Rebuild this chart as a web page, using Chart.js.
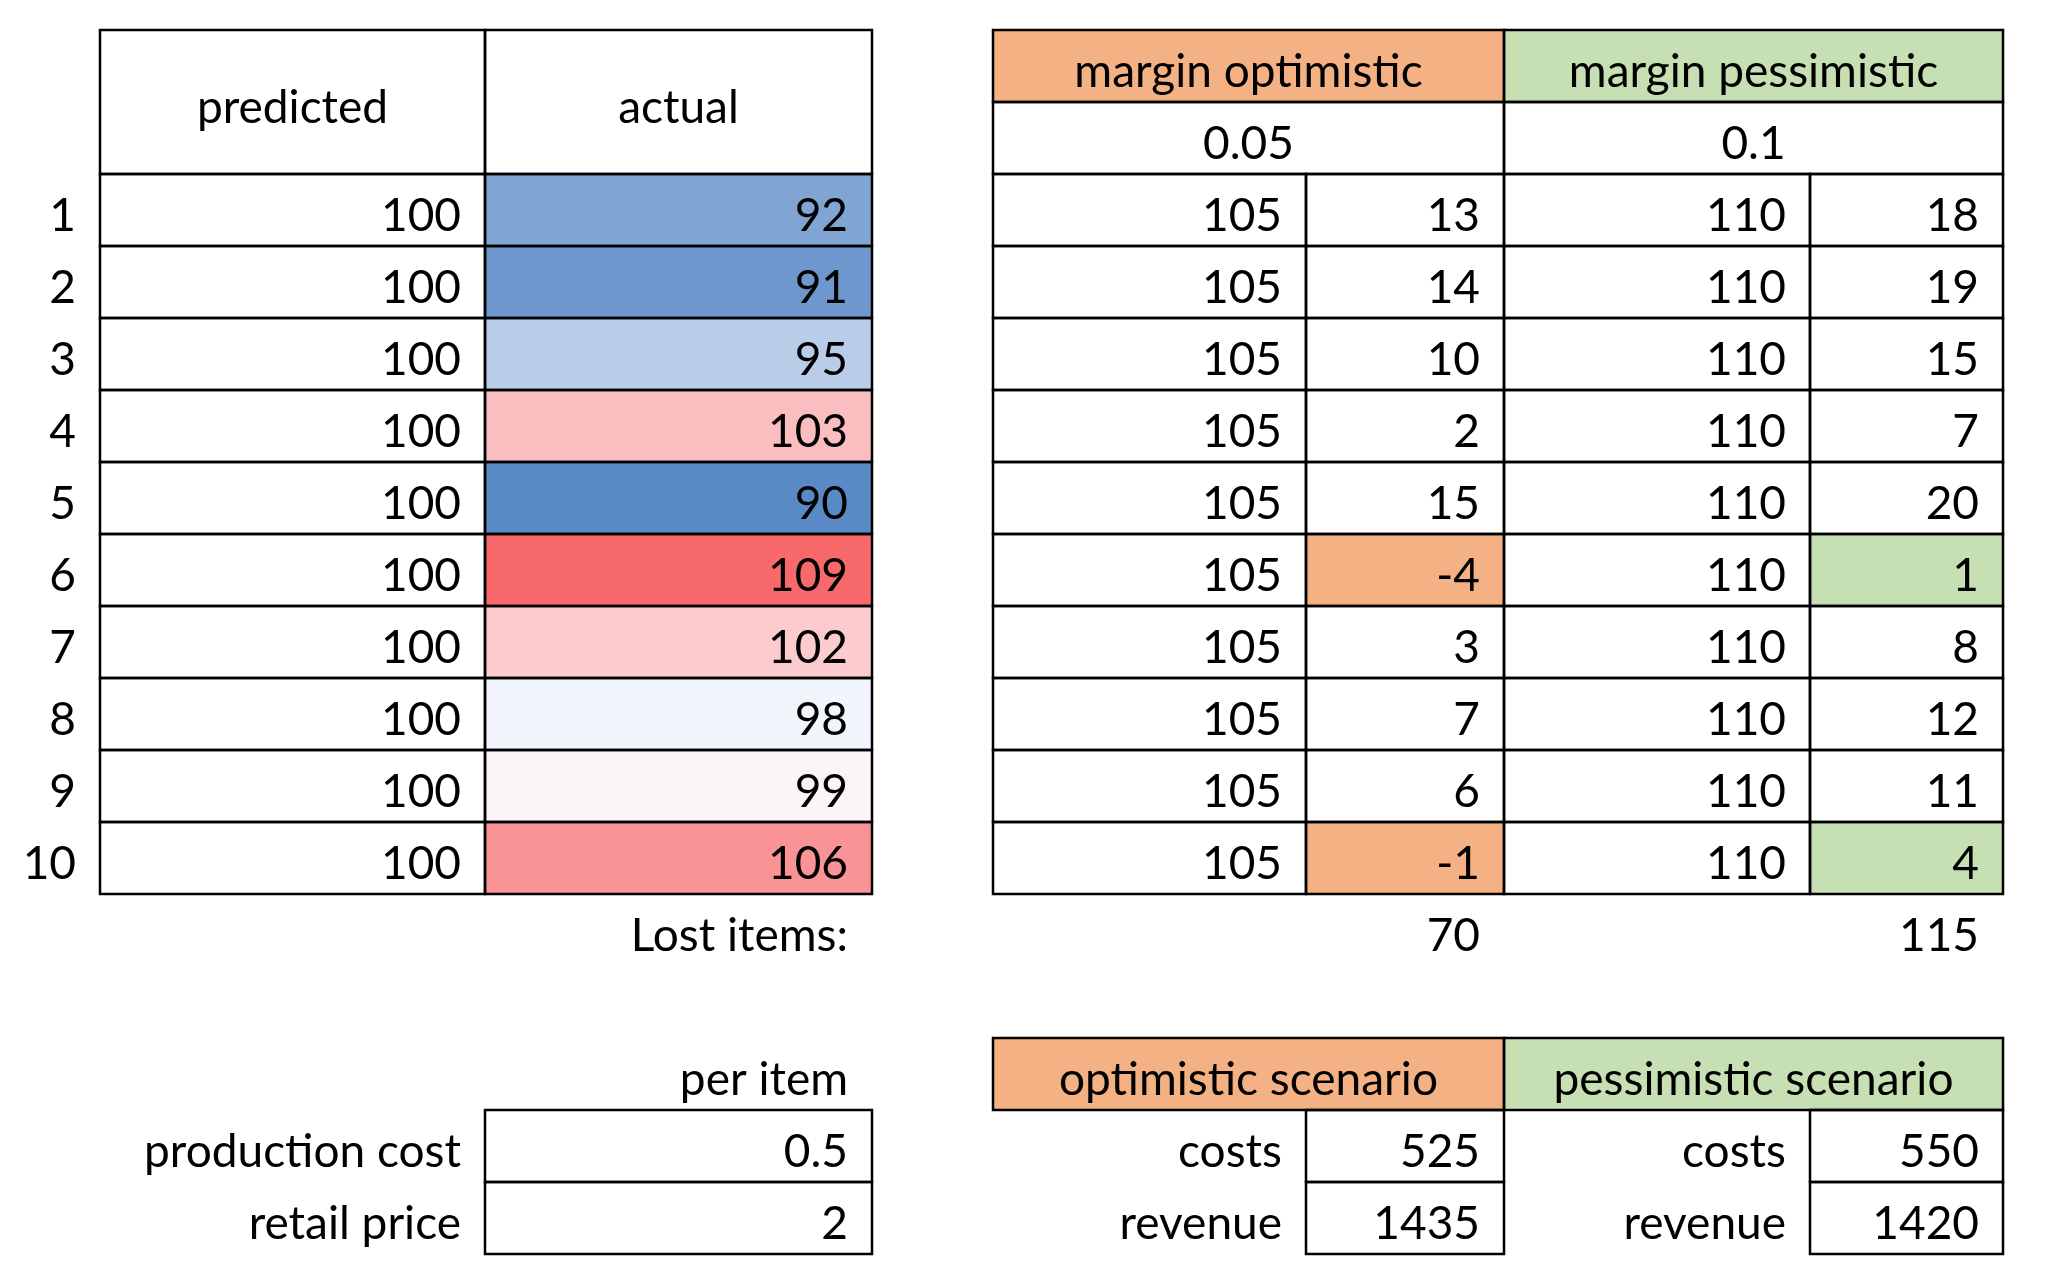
<!DOCTYPE html>
<html>
<head>
<meta charset="utf-8">
<title>Lost items – margin scenarios</title>
<script src="https://cdn.jsdelivr.net/npm/chart.js@4.4.1/dist/chart.umd.min.js"></script>
<style>
  html, body { margin: 0; padding: 0; background: #fff; }
  #wrap { width: 2048px; height: 1275px; }
</style>
</head>
<body>
<div id="wrap"><canvas id="sheet"></canvas></div>
<script>
// values
const rowNumbers = ['1', '2', '3', '4', '5', '6', '7', '8', '9', '10'];
const predicted = [100, 100, 100, 100, 100, 100, 100, 100, 100, 100];
const actual = [92, 91, 95, 103, 90, 109, 102, 98, 99, 106];
const marginHeaders = ['margin optimistic', 'margin pessimistic'];
const marginRates = [0.05, 0.1];
const optimisticUpper = [105, 105, 105, 105, 105, 105, 105, 105, 105, 105];
const optimisticMargin = [13, 14, 10, 2, 15, -4, 3, 7, 6, -1];
const pessimisticUpper = [110, 110, 110, 110, 110, 110, 110, 110, 110, 110];
const pessimisticMargin = [18, 19, 15, 7, 20, 1, 8, 12, 11, 4];
const lostItems = [70, 115];
const costLabels = ['production cost', 'retail price'];
const perItem = [0.5, 2];
const scenarioNames = ['optimistic scenario', 'pessimistic scenario'];
const scenarioRowLabels = ['costs', 'revenue'];
const optimisticTotals = [525, 1435];
const pessimisticTotals = [550, 1420];

// sheet layout: column edges A..H (px), row grid
const COL = [0, 100, 485, 872, 993, 1306, 1504, 1810, 2003];
const ROW_TOP = 30;
const ROW_H = 72;
const PAD = 24;
const FONT = '46px Lato, "Open Sans", sans-serif';
const ORANGE = '#F4B183';
const GREEN = '#C6E0B4';

// excel style 3-colour scale (blue - white - red) for the "actual" column
function heatColor(v) {
  const sorted = [...actual].sort((a, b) => a - b);
  const lo = sorted[0], hi = sorted[sorted.length - 1];
  const n = sorted.length;
  const mid = n % 2 ? sorted[(n - 1) / 2] : (sorted[n / 2 - 1] + sorted[n / 2]) / 2;
  const blue = [90, 138, 198], white = [252, 252, 255], red = [248, 105, 107];
  let from, to, t;
  if (v <= mid) { from = blue; to = white; t = (v - lo) / (mid - lo); }
  else { from = white; to = red; t = (v - mid) / (hi - mid); }
  const c = from.map((f, i) => Math.round(f + (to[i] - f) * t));
  return `rgb(${c[0]}, ${c[1]}, ${c[2]})`;
}

// filled cells -> floating bars
const fills = [];
const fillColors = [];
function addFill(c0, c1, r, color) {
  fills.push({ y: r + 0.5, x: [COL[c0], COL[c1 + 1]] });
  fillColors.push(color);
}
addFill(4, 5, 0, ORANGE);
addFill(6, 7, 0, GREEN);
actual.forEach((v, i) => addFill(2, 2, i + 2, heatColor(v)));
optimisticMargin.forEach((v, i) => {
  if (v < 0) {
    addFill(5, 5, i + 2, ORANGE);
    addFill(7, 7, i + 2, GREEN);
  }
});
addFill(4, 5, 14, ORANGE);
addFill(6, 7, 14, GREEN);

// bordered cells [c0, c1, r0, r1]
const borders = [[1, 1, 0, 1], [2, 2, 0, 1], [4, 5, 0, 0], [6, 7, 0, 0], [4, 5, 1, 1], [6, 7, 1, 1]];
for (let r = 2; r < 12; r++) {
  [1, 2, 4, 5, 6, 7].forEach(c => borders.push([c, c, r, r]));
}
borders.push([2, 2, 15, 15], [2, 2, 16, 16]);
borders.push([4, 5, 14, 14], [6, 7, 14, 14]);
[5, 7].forEach(c => { borders.push([c, c, 15, 15], [c, c, 16, 16]); });

// text cells
const texts = [];
function addText(c0, c1, r0, r1, text, align) {
  texts.push({ c0, c1, r0, r1, text: String(text), align: align || 'right' });
}
addText(1, 1, 0, 1, 'predicted', 'center');
addText(2, 2, 0, 1, 'actual', 'center');
addText(4, 5, 0, 0, marginHeaders[0], 'center');
addText(6, 7, 0, 0, marginHeaders[1], 'center');
addText(4, 5, 1, 1, marginRates[0], 'center');
addText(6, 7, 1, 1, marginRates[1], 'center');
rowNumbers.forEach((lbl, i) => {
  const r = i + 2;
  addText(0, 0, r, r, lbl);
  addText(1, 1, r, r, predicted[i]);
  addText(2, 2, r, r, actual[i]);
  addText(4, 4, r, r, optimisticUpper[i]);
  addText(5, 5, r, r, optimisticMargin[i]);
  addText(6, 6, r, r, pessimisticUpper[i]);
  addText(7, 7, r, r, pessimisticMargin[i]);
});
addText(2, 2, 12, 12, 'Lost items:');
addText(5, 5, 12, 12, lostItems[0]);
addText(7, 7, 12, 12, lostItems[1]);
addText(2, 2, 14, 14, 'per item');
addText(4, 5, 14, 14, scenarioNames[0], 'center');
addText(6, 7, 14, 14, scenarioNames[1], 'center');
costLabels.forEach((lbl, i) => {
  const r = 15 + i;
  addText(1, 1, r, r, lbl);
  addText(2, 2, r, r, perItem[i]);
  addText(4, 4, r, r, scenarioRowLabels[i]);
  addText(5, 5, r, r, optimisticTotals[i]);
  addText(6, 6, r, r, scenarioRowLabels[i]);
  addText(7, 7, r, r, pessimisticTotals[i]);
});

// draws grid lines and cell text on the chart's own scales
const sheetPlugin = {
  id: 'sheet',
  afterDatasetsDraw(chart) {
    const { ctx, scales: { x, y } } = chart;
    const box = (c0, c1, r0, r1) => ({
      left: x.getPixelForValue(COL[c0]),
      right: x.getPixelForValue(COL[c1 + 1]),
      top: y.getPixelForValue(r0),
      bottom: y.getPixelForValue(r1 + 1)
    });
    ctx.save();
    ctx.strokeStyle = '#000';
    ctx.lineWidth = 2.5;
    borders.forEach(b => {
      const r = box(b[0], b[1], b[2], b[3]);
      ctx.strokeRect(r.left, r.top, r.right - r.left, r.bottom - r.top);
    });
    ctx.fillStyle = '#000';
    ctx.font = FONT;
    ctx.textBaseline = 'alphabetic';
    texts.forEach(t => {
      const r = box(t.c0, t.c1, t.r0, t.r1);
      const cy = (r.top + r.bottom) / 2 + 21;
      ctx.textAlign = t.align;
      const cx = t.align === 'center' ? (r.left + r.right) / 2 : r.right - PAD;
      ctx.fillText(t.text, cx, cy);
    });
    ctx.restore();
  }
};

const chart = new Chart(document.getElementById('sheet'), {
  type: 'bar',
  data: {
    datasets: [{
      label: 'cells',
      data: fills,
      backgroundColor: fillColors,
      borderWidth: 0,
      barPercentage: 1,
      categoryPercentage: 1
    }]
  },
  options: {
    responsive: true,
    maintainAspectRatio: false,
    animation: false,
    indexAxis: 'y',
    layout: { padding: 0 },
    plugins: {
      legend: { display: false },
      tooltip: { enabled: false }
    },
    scales: {
      x: { type: 'linear', min: 0, max: 2048, display: false, offset: false },
      y: {
        type: 'linear',
        min: -ROW_TOP / ROW_H,
        max: (1275 - ROW_TOP) / ROW_H,
        reverse: true,
        display: false,
        offset: false,
        afterBuildTicks: (scale) => { scale.ticks = []; }
      }
    }
  },
  plugins: [sheetPlugin]
});
</script>
</body>
</html>
